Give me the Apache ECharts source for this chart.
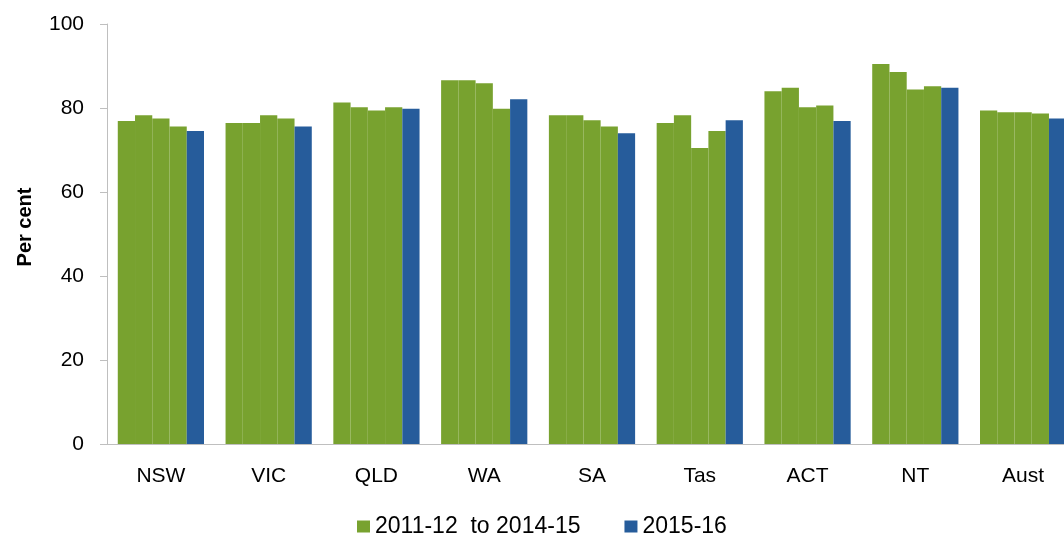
<!DOCTYPE html>
<html>
<head>
<meta charset="utf-8">
<script src="https://cdn.jsdelivr.net/npm/echarts@6/dist/echarts.min.js"></script>
<style>
html, body { margin: 0; padding: 0; background: #fff; overflow: hidden; }
#chart { width: 1084px; height: 537px; }
</style>
</head>
<body>
<div id="chart"></div>
<script>
const categories = ['NSW', 'VIC', 'QLD', 'WA', 'SA', 'Tas', 'ACT', 'NT', 'Aust']
// four earlier years, drawn green
const y2011 = [76.9, 76.4, 81.3, 86.6, 78.3, 76.4, 84.0, 90.5, 79.4]
const y2012 = [78.3, 76.4, 80.2, 86.6, 78.3, 78.3, 84.8, 88.6, 79.0]
const y2013 = [77.5, 78.3, 79.4, 85.9, 77.1, 70.5, 80.2, 84.4, 79.0]
const y2014 = [75.6, 77.5, 80.2, 79.8, 75.6, 74.5, 80.6, 85.2, 78.7]
// latest year, drawn blue
const y2015 = [74.5, 75.6, 79.8, 82.1, 74.0, 77.1, 76.9, 84.8, 77.5]
const yTicks = [0, 20, 40, 60, 80, 100]

const greenName = '2011-12  to 2014-15'
const blueName = '2015-16'
const green = '#78a22f'
const blue = '#265c9b'
const font = '"Liberation Sans", Arial, sans-serif'

function bar(name, data, color) {
  return {
    name: name,
    type: 'bar',
    barGap: '0%',
    barCategoryGap: '20%',
    itemStyle: { color: color },
    data: data
  }
}

let myChart = echarts.init(document.getElementById('chart'), null, {renderer: 'canvas'})
myChart.setOption({
  animation: false,
  textStyle: { fontFamily: font },
  grid: { left: 107, top: 24, width: 970, height: 420, outerBoundsMode: 'none', containLabel: false },
  legend: {
    left: 357,
    top: 515,
    padding: 0,
    itemWidth: 13,
    itemHeight: 12,
    itemGap: 44,
    icon: 'rect',
    data: [greenName, blueName],
    textStyle: { fontSize: 23, color: '#000', fontFamily: font }
  },
  xAxis: {
    type: 'category',
    data: categories,
    axisLine: { lineStyle: { color: '#bfbfbf', width: 1 } },
    axisTick: { show: false },
    axisLabel: { color: '#000', fontSize: 21, margin: 22, fontFamily: font }
  },
  yAxis: {
    type: 'value',
    min: yTicks[0],
    max: yTicks[yTicks.length - 1],
    interval: 20,
    name: 'Per cent',
    nameLocation: 'middle',
    nameGap: 72,
    nameTextStyle: { color: '#000', fontSize: 20, fontWeight: 'bold', fontFamily: font, padding: [0, 0, 0, 14] },
    axisLine: { show: true, lineStyle: { color: '#bfbfbf' } },
    axisTick: { show: true, inside: false, length: 7, lineStyle: { color: '#bfbfbf' } },
    axisLabel: { color: '#000', fontSize: 21, margin: 23, fontFamily: font },
    splitLine: { show: false }
  },
  series: [
    bar(greenName, y2011, green),
    bar(greenName, y2012, green),
    bar(greenName, y2013, green),
    bar(greenName, y2014, green),
    bar(blueName, y2015, blue)
  ]
})
</script>
</body>
</html>
